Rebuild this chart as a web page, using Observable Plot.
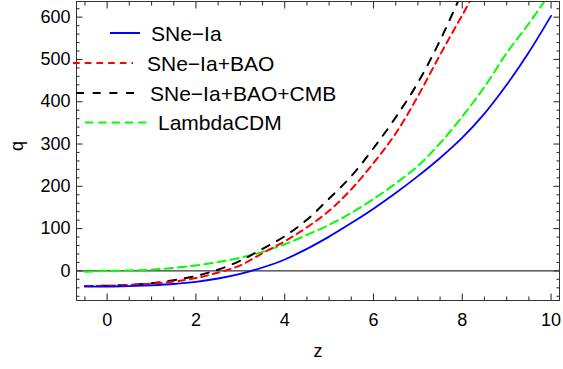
<!DOCTYPE html>
<html><head><meta charset="utf-8">
<script src="https://cdn.jsdelivr.net/npm/d3@7"></script>
<script src="https://cdn.jsdelivr.net/npm/@observablehq/plot@0.6"></script>
<style>
body{margin:0;background:#fff;}
#wrap{position:relative;width:563px;height:369px;font-family:"Liberation Sans",Arial,sans-serif;}
#legend{position:absolute;left:0;top:0;pointer-events:none;}
</style></head><body><div id="wrap"></div>
<script>
// redshift samples
const zValues = [-0.5, 0, 0.5, 1, 1.5, 2, 2.5, 3, 3.5, 4, 4.5, 5, 5.5, 6, 6.5, 7, 7.5, 8, 8.5, 9, 9.5, 10];
// q for each model
const qSNe       = [-37, -37, -36, -34, -31, -26, -18, -7, 8, 27, 52, 81, 113, 147, 184, 224, 267, 315, 372, 440, 517, 603];
const qSNeBAO    = [-36, -35, -33, -30, -25, -17, -4, 13, 42, 70, 103, 142, 193, 255, 325, 413, 511, 605, 700];
const qSNeBAOCMB = [-36, -35, -33, -29, -22, -12, 3, 24, 52, 82, 121, 171, 224, 290, 363, 445, 545, 660];
const qLCDM      = [-2, 0, 1, 3, 7, 13, 21, 31, 45, 63, 85, 109, 137, 170, 207, 248, 302, 365, 435, 515, 585, 660];

const seriesNames  = ["SNe\u2212Ia", "SNe\u2212Ia+BAO", "SNe\u2212Ia+BAO+CMB", "LambdaCDM"];
const seriesColors = ["#0000ff", "#ff0000", "#000000", "#00ff00"];
const seriesDash   = [null, "6.7,5", "8,8.7", "8.3,5"];
const seriesQ      = [qSNe, qSNeBAO, qSNeBAOCMB, qLCDM];

const xMajor = [0, 2, 4, 6, 8, 10];
const xMinor = d3.range(-0.5, 10.01, 0.5).filter(v => !xMajor.includes(v));
const yMajor = [0, 100, 200, 300, 400, 500, 600];
const yMinor = d3.range(-60, 637, 20).filter(v => !yMajor.includes(v));

const tables = seriesQ.map(qs => qs.map((q, i) => ({z: zValues[i], q})));

const W = 563, H = 369, mL = 76, mR = 4, mT = 1, mB = 69;
const xDomain = [-0.69, 10.19], yDomain = [-70, 637];
const frameColor = "#333";
const majorLen = 6.5, minorLen = 3.5;

function xTicks(vals, len) {
  return ["bottom", "top"].map(anchor =>
    Plot.axisX({anchor, ticks: vals, tickSize: -len, tickFormat: () => "", label: null, stroke: frameColor, strokeWidth: 1.1}));
}
function yTicks(vals, len) {
  return ["left", "right"].map(anchor =>
    Plot.axisY({anchor, ticks: vals, tickSize: -len, tickFormat: () => "", label: null, stroke: frameColor, strokeWidth: 1.1}));
}

const chart = Plot.plot({
  width: W, height: H,
  marginLeft: mL, marginRight: mR, marginTop: mT, marginBottom: mB,
  style: {fontFamily: "'Liberation Sans', Arial, sans-serif", fontSize: "18px", color: "#000", background: "#fff"},
  x: {domain: xDomain},
  y: {domain: yDomain},
  marks: [
    Plot.ruleY([0], {stroke: "#000", strokeWidth: 1}),
    ...tables.map((t, i) => Plot.line(t, {
      x: "z", y: "q", stroke: seriesColors[i], strokeWidth: i === 0 ? 1.8 : 2,
      strokeDasharray: seriesDash[i] ?? undefined, curve: "catmull-rom", clip: true
    })).reverse(),
    Plot.frame({stroke: frameColor, strokeWidth: 1}),
    ...xTicks(xMajor, majorLen), ...xTicks(xMinor, minorLen),
    ...yTicks(yMajor, majorLen), ...yTicks(yMinor, minorLen),
    Plot.axisX({anchor: "bottom", ticks: xMajor, tickSize: 0, tickPadding: 13, label: null, fontSize: 18}),
    Plot.axisY({anchor: "left", ticks: yMajor, tickSize: 0, tickPadding: 6, label: null, fontSize: 18}),
    Plot.text(["z"], {frameAnchor: "bottom", dy: 56, fontSize: 18, text: d => d}),
    Plot.text(["q"], {frameAnchor: "left", dx: -59.5, rotate: -90, fontSize: 18, text: d => d})
  ]
});
const wrap = document.getElementById("wrap");
wrap.appendChild(chart);

// legend overlay
const legendRows = [
  {y: 33, x1: 110, x2: 140, tx: 151},
  {y: 63, x1: 73, x2: 133, tx: 147},
  {y: 93, x1: 76, x2: 138, tx: 150},
  {y: 122.5, x1: 85, x2: 147, tx: 158}
];
const svg = d3.select(wrap).append("svg").attr("id", "legend").attr("width", W).attr("height", H);
legendRows.forEach((r, i) => {
  svg.append("line").attr("x1", r.x1).attr("x2", r.x2).attr("y1", r.y).attr("y2", r.y)
    .attr("stroke", seriesColors[i]).attr("stroke-width", 2)
    .attr("stroke-dasharray", seriesDash[i]);
  svg.append("text").attr("x", r.tx).attr("y", r.y + 7.5)
    .attr("font-family", "'Liberation Sans', Arial, sans-serif").attr("font-size", 21)
    .attr("fill", "#000").text(seriesNames[i]);
});
</script></body></html>
